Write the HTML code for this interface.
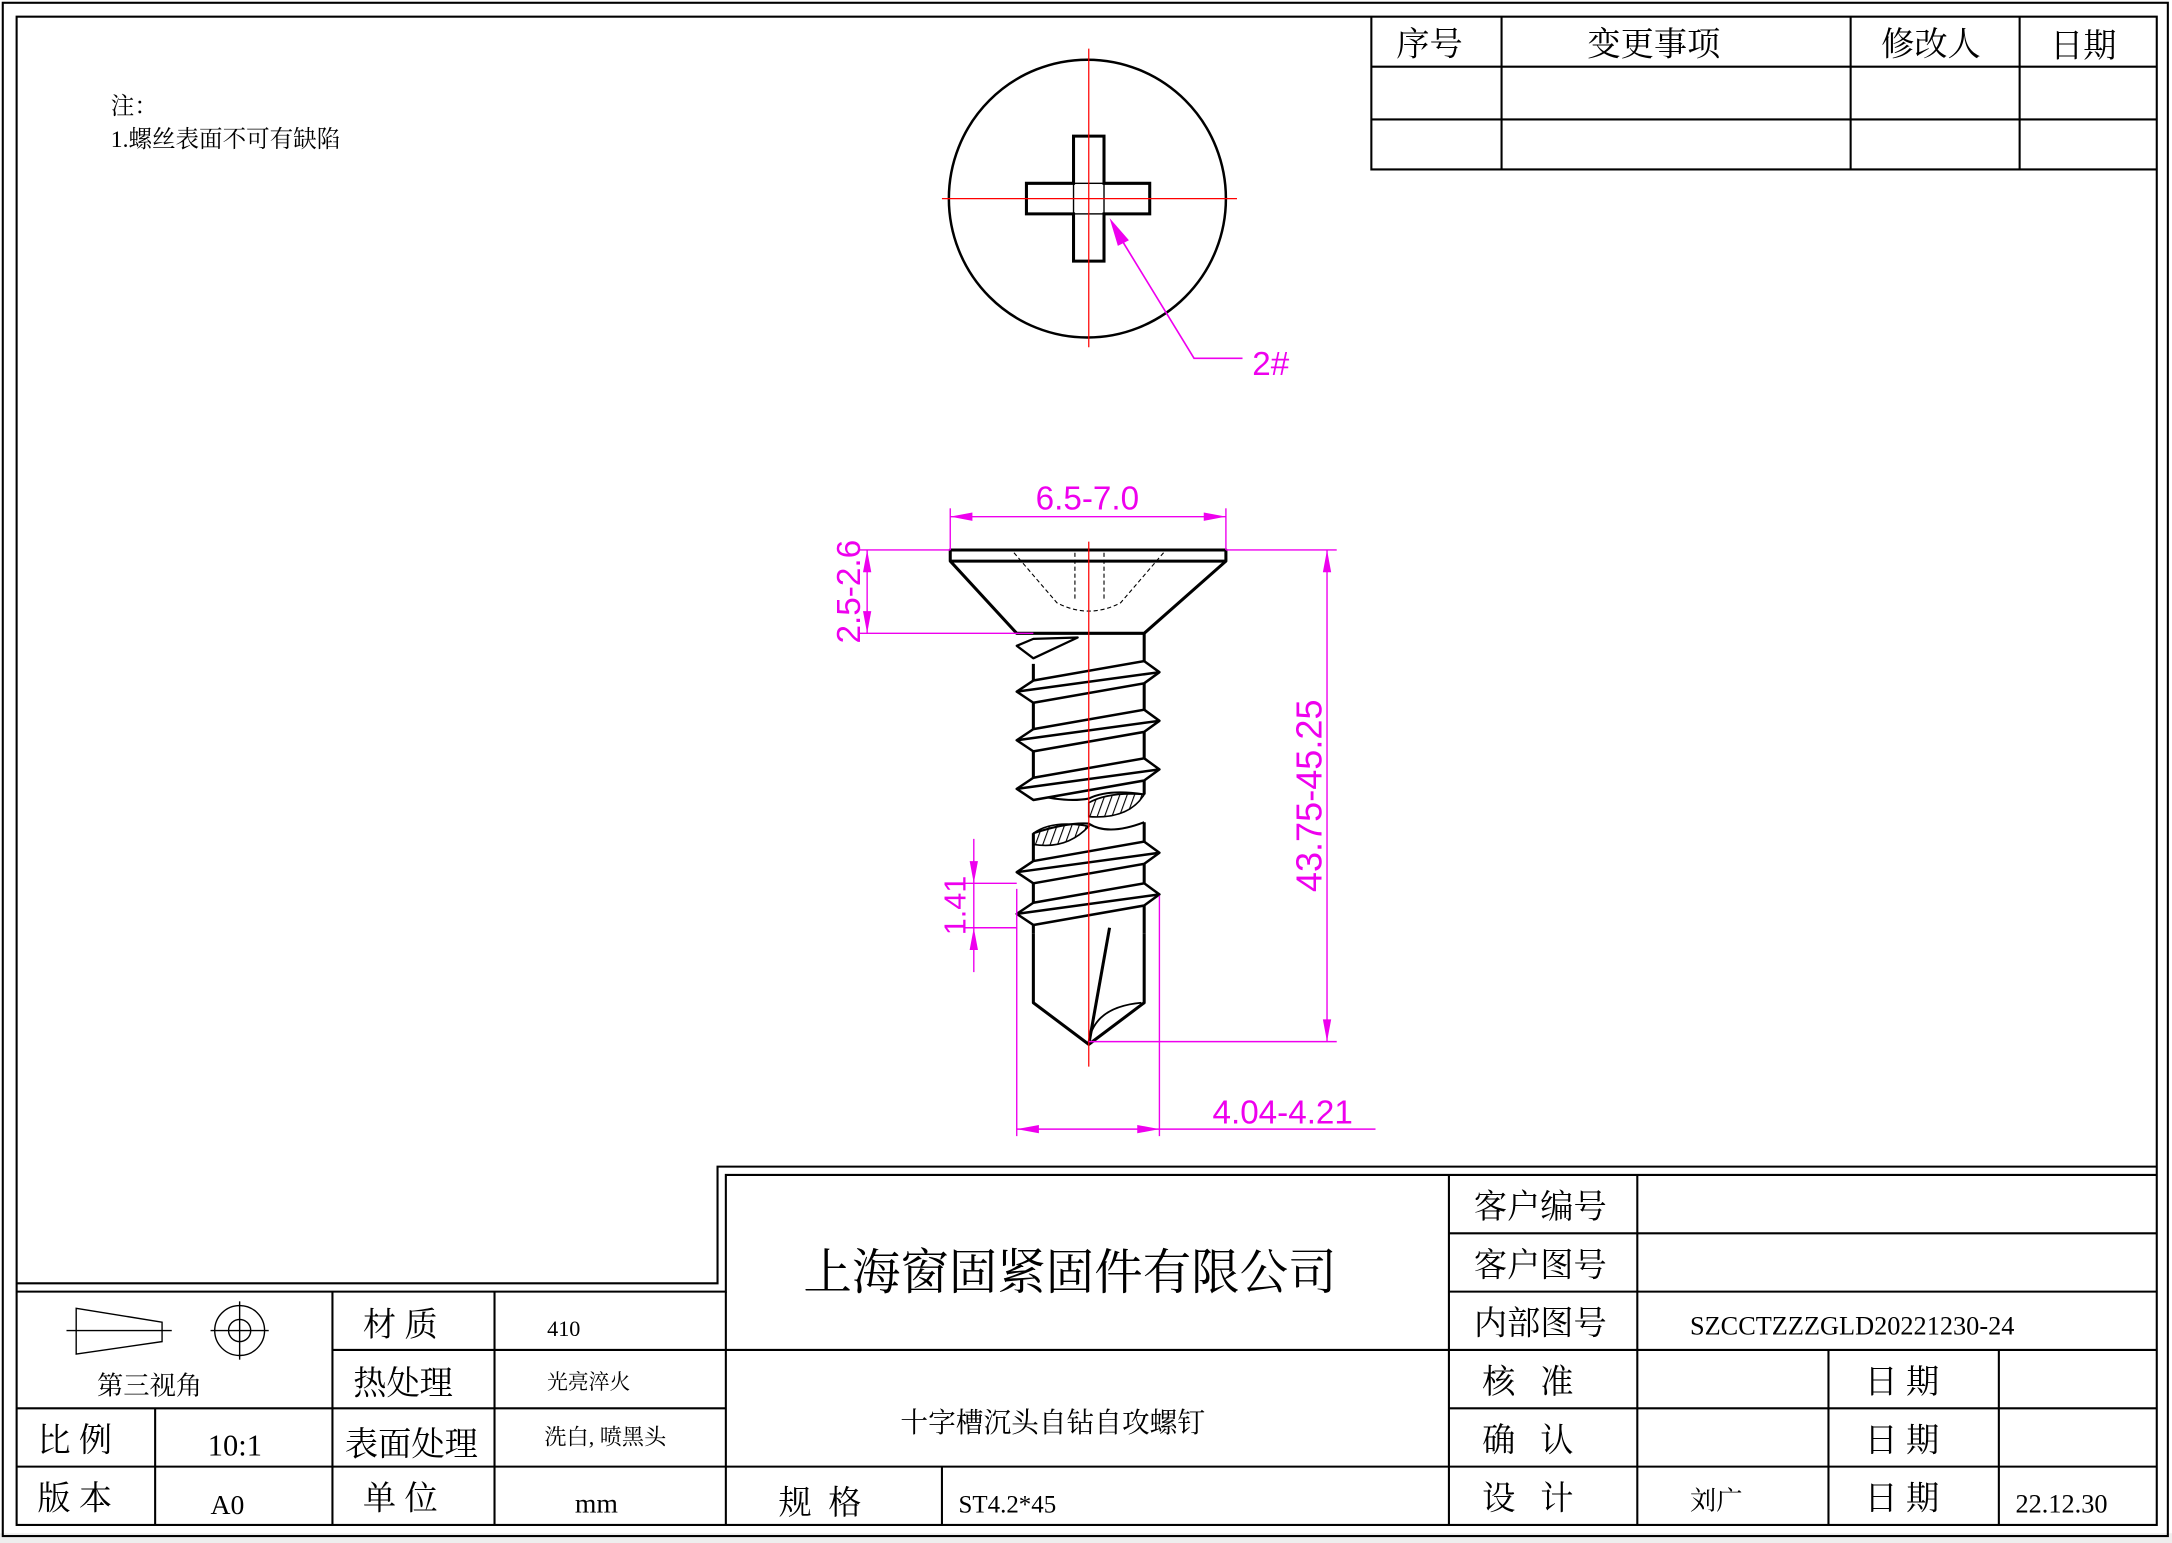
<!DOCTYPE html>
<html><head><meta charset="utf-8"><style>
html,body{margin:0;padding:0;background:#fff;}
svg{display:block;}
text{font-family:"Liberation Serif","Noto Serif CJK SC","Noto Sans CJK SC",serif;fill:#000;}
.m{fill:#e0e;font-family:"Liberation Sans",sans-serif;}
</style></head><body>
<svg width="2172" height="1543" viewBox="0 0 1568 1111" preserveAspectRatio="none" xmlns="http://www.w3.org/2000/svg">
<rect x="0" y="0" width="1568" height="1111" fill="#fff"/>
<rect x="0" y="1104" width="1568" height="7" fill="#eee"/>
<g fill="none" stroke="#000" stroke-width="1.5">
<rect x="2" y="2" width="1563" height="1104"/>
<rect x="12" y="12" width="1545" height="1086"/>
<polyline points="12,924 518,924 518,840 1557,840"/>
<polyline points="12,930 524,930 524,846 1557,846"/>
<line x1="524" y1="930" x2="524" y2="1098"/>
<!-- left table -->
<line x1="12" y1="1014" x2="524" y2="1014"/>
<line x1="12" y1="1056" x2="1557" y2="1056"/>
<line x1="240" y1="972" x2="1557" y2="972"/>
<line x1="240" y1="930" x2="240" y2="1098"/>
<line x1="357" y1="930" x2="357" y2="1098"/>
<line x1="112" y1="1014" x2="112" y2="1098"/>
<line x1="680" y1="1056" x2="680" y2="1098"/>
<line x1="1046" y1="846" x2="1046" y2="1098"/>
<line x1="1182" y1="846" x2="1182" y2="1098"/>
<line x1="1046" y1="888" x2="1557" y2="888"/>
<line x1="1046" y1="930" x2="1557" y2="930"/>
<line x1="1046" y1="1014" x2="1557" y2="1014"/>
<line x1="1320" y1="972" x2="1320" y2="1098"/>
<line x1="1443" y1="972" x2="1443" y2="1098"/>
<!-- revision table -->
<polyline points="990,12 990,122 1557,122"/>
<line x1="990" y1="48" x2="1557" y2="48"/>
<line x1="990" y1="86" x2="1557" y2="86"/>
<line x1="1084" y1="12" x2="1084" y2="122"/>
<line x1="1336" y1="12" x2="1336" y2="122"/>
<line x1="1458" y1="12" x2="1458" y2="122"/>
</g>
<!-- projection symbol -->
<g fill="none" stroke="#000" stroke-width="1">
<polygon points="55,942 117,952 117,966 55,975"/>
<line x1="48" y1="958" x2="124" y2="958"/>
<circle cx="173" cy="958" r="18"/><circle cx="173" cy="958" r="8"/>
<line x1="152" y1="958" x2="194" y2="958"/><line x1="173" y1="937" x2="173" y2="979"/>
</g>
<g font-size="24">
<text x="70" y="1004" font-size="19">第三视角</text>
<text x="262" y="962">材 质</text>
<text x="395" y="962" font-size="16">410</text>
<text x="255" y="1004">热处理</text>
<text x="395" y="1000" font-size="15" fill="#333">光亮淬火</text>
<text x="27" y="1045">比 例</text>
<text x="150" y="1048" font-size="22">10:1</text>
<text x="249" y="1048">表面处理</text>
<text x="393" y="1040" font-size="16">洗白, 喷黑头</text>
<text x="27" y="1087">版 本</text>
<text x="152" y="1090" font-size="20">A0</text>
<text x="262" y="1087">单 位</text>
<text x="415" y="1089" font-size="20">mm</text>
<text x="562" y="1090">规 &#160;格</text>
<text x="692" y="1089" font-size="18">ST4.2*45</text>
<text x="580" y="928" font-size="35">上海窗固紧固件有限公司</text>
<text x="650" y="1031" font-size="20">十字槽沉头自钻自攻螺钉</text>
<text x="1064" y="877">客户编号</text>
<text x="1064" y="919">客户图号</text>
<text x="1064" y="961">内部图号</text>
<text x="1220" y="961" font-size="19">SZCCTZZZGLD20221230-24</text>
<text x="1070" y="1003">核 &#160; 准</text>
<text x="1070" y="1045">确 &#160; 认</text>
<text x="1070" y="1087">设 &#160; 计</text>
<text x="1220" y="1087" font-size="19">刘广</text>
<text x="1346" y="1003">日 期</text>
<text x="1346" y="1045">日 期</text>
<text x="1346" y="1087">日 期</text>
<text x="1455" y="1089" font-size="19">22.12.30</text>
<text x="1008" y="40">序号</text>
<text x="1146" y="40">变更事项</text>
<text x="1358" y="40">修改人</text>
<text x="1480" y="41">日期</text>
</g>
<text x="80" y="82" font-size="17" font-family="Liberation Sans,Noto Sans CJK SC,sans-serif">注：</text>
<text x="80" y="106" font-size="17" font-family="Liberation Sans,Noto Sans CJK SC,sans-serif">1.螺丝表面不可有缺陷</text>
<!-- top view -->
<circle cx="785" cy="143" r="100" fill="none" stroke="#000" stroke-width="1.8"/>
<polygon points="775,98 797,98 797,132 830,132 830,154 797,154 797,188 775,188 775,154 741,154 741,132 775,132" fill="none" stroke="#000" stroke-width="2.2"/>
<g stroke="#000" stroke-width="1" fill="none"><rect x="775" y="132" width="22" height="22"/></g>
<g stroke="#f00" stroke-width="0.9"><line x1="680" y1="143" x2="893" y2="143"/><line x1="786" y1="35" x2="786" y2="250"/></g>
<g stroke="#e0e" stroke-width="1.2" fill="none"><polyline points="805,165 862,258 897,258"/></g>
<polygon points="801,157 815,173 807,177" fill="#e0e"/>
<text class="m" x="904" y="270" font-size="24">2#</text>
<!-- side view -->
<g stroke="#000" stroke-width="2.2" fill="none" stroke-linejoin="round">
<polygon points="686,396 885,396 885,404 826,456 734,456 686,404"/>
<line x1="686" y1="404" x2="885" y2="404"/>
<polyline points="746,478 746,572"/>
<polyline points="826,456 826,572"/>
<polyline points="746,600 746,672"/>
<polyline points="826,592 826,672"/>
<polyline points="746,672 746,722 786,752 826,722 826,672"/>
<line x1="786" y1="752" x2="801" y2="668"/>
<path d="M786,750 Q790,725 824,722" stroke-width="1.3"/>
<path d="M746,572 Q770,578 786,575 Q800,568 826,572" stroke-width="1.5"/>
<path d="M746,600 Q770,592 786,593 Q800,602 826,592" stroke-width="1.5"/>
<polygon points="734,465 746,460 778,459 746,474" stroke-width="1.6"/>
</g>
<g stroke="#000" stroke-width="1.2" fill="#fff">
<path d="M786,578 Q800,570 826,572 Q815,590 786,588 Z" fill="url(#h)"/>
<path d="M746,600 Q760,590 786,595 Q770,612 746,608 Z" fill="url(#h)"/>
</g>
<defs><pattern id="h" width="5" height="5" patternUnits="userSpaceOnUse" patternTransform="rotate(20)"><line x1="0" y1="0" x2="0" y2="5" stroke="#000" stroke-width="1.6"/></pattern></defs>
<g stroke="#000" stroke-width="1.8" fill="#fff" stroke-linejoin="round">
<g id="t"><polygon points="746,490 826,476 837,484 826,492 746,506 734,498"/><line x1="734" y1="498" x2="837" y2="484"/></g>
<use href="#t" y="35"/><use href="#t" y="70"/><use href="#t" y="130"/><use href="#t" y="160"/>
</g>
<g stroke="#000" stroke-width="0.8" fill="none" stroke-dasharray="3,2">
<path d="M732,398 L763,434 Q786,446 809,434 L840,398"/>
<line x1="776" y1="398" x2="776" y2="432"/><line x1="797" y1="398" x2="797" y2="432"/>
</g>
<line x1="786" y1="390" x2="786" y2="768" stroke="#f00" stroke-width="0.9"/>
<!-- dimensions -->
<g stroke="#e0e" stroke-width="1" fill="none">
<line x1="686" y1="366" x2="686" y2="396"/><line x1="885" y1="366" x2="885" y2="396"/>
<line x1="686" y1="372" x2="885" y2="372"/>
<line x1="620" y1="396" x2="686" y2="396"/><line x1="885" y1="396" x2="965" y2="396"/>
<line x1="620" y1="456" x2="746" y2="456"/>
<line x1="626" y1="396" x2="626" y2="456"/>
<line x1="958" y1="396" x2="958" y2="750"/>
<line x1="786" y1="750" x2="965" y2="750"/>
<line x1="734" y1="640" x2="734" y2="818"/><line x1="837" y1="645" x2="837" y2="818"/>
<line x1="734" y1="813" x2="993" y2="813"/>
<line x1="697" y1="636" x2="734" y2="636"/><line x1="697" y1="668" x2="734" y2="668"/>
<line x1="703" y1="604" x2="703" y2="700"/>
</g>
<g fill="#e0e">
<polygon points="686,372 702,369 702,375"/><polygon points="885,372 869,369 869,375"/>
<polygon points="626,396 623,412 629,412"/><polygon points="626,456 623,440 629,440"/>
<polygon points="958,396 955,412 961,412"/><polygon points="958,750 955,734 961,734"/>
<polygon points="734,813 750,810 750,816"/><polygon points="837,813 821,810 821,816"/>
<polygon points="703,636 700,620 706,620"/><polygon points="703,668 700,684 706,684"/>
</g>
<text class="m" x="785" y="367" font-size="24" text-anchor="middle">6.5-7.0</text>
<text class="m" x="926" y="809" font-size="24" text-anchor="middle">4.04-4.21</text>
<text class="m" font-size="24" text-anchor="middle" transform="translate(621,426) rotate(-90)">2.5-2.6</text>
<text class="m" font-size="26" text-anchor="middle" transform="translate(954,573) rotate(-90)">43.75-45.25</text>
<text class="m" font-size="22" text-anchor="middle" transform="translate(697,652) rotate(-90)">1.41</text>
</svg>
</body></html>
